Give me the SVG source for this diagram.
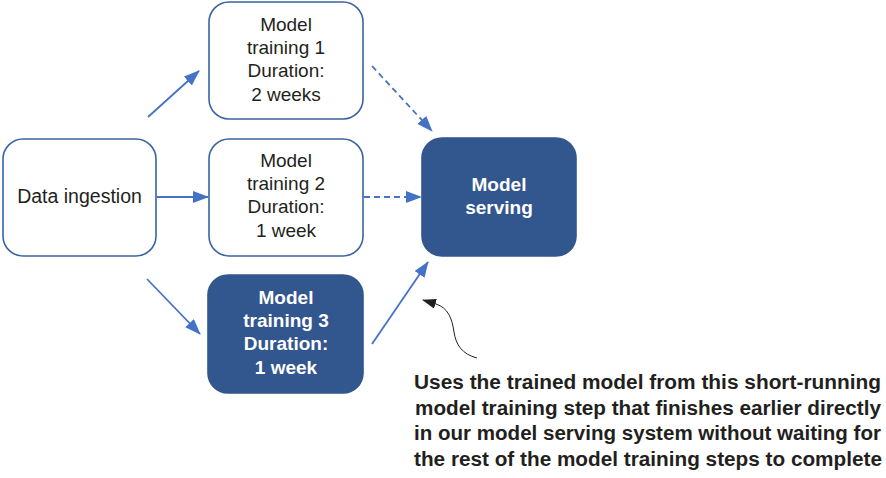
<svg xmlns="http://www.w3.org/2000/svg" width="886" height="478" viewBox="0 0 886 478">
<style>
.box{fill:#fff;stroke:#3a63a3;stroke-width:1.6}
.dark{fill:#32568e;stroke:#32568e;stroke-width:1.6}
.t{font-family:"Liberation Sans",Arial,sans-serif;font-size:19px;fill:#231f20;text-anchor:middle}
.tb{font-family:"Liberation Sans",Arial,sans-serif;font-size:19px;font-weight:bold;fill:#fff;text-anchor:middle}
.c{stroke:#4472c4;stroke-width:1.8;fill:none}
.d{stroke-dasharray:6,4}
.note{font-family:"Liberation Sans",Arial,sans-serif;font-size:19.5px;font-weight:bold;fill:#231f20}
</style>
<defs>
<marker id="ah" markerUnits="userSpaceOnUse" markerWidth="16" markerHeight="12" refX="15" refY="6" orient="auto">
<path d="M0,0 L16,6 L0,12 Z" fill="#4472c4"/>
</marker>
<marker id="bh" markerUnits="userSpaceOnUse" markerWidth="14" markerHeight="10" refX="13" refY="5" orient="auto">
<path d="M0,0 L14,5 L0,10 Z" fill="#231f20"/>
</marker>
</defs>
<g id="data-ingestion">
<rect class="box" x="3" y="139" width="153" height="117" rx="20"/>
<text class="t" x="79.5" y="203" style="font-size:19.5px">Data ingestion</text>
</g>
<g id="model-training-1">
<rect class="box" x="209" y="2" width="154" height="117" rx="20"/>
<text class="t" x="286" y="31">Model</text>
<text class="t" x="286" y="54">training 1</text>
<text class="t" x="286" y="77">Duration:</text>
<text class="t" x="286" y="101">2 weeks</text>
</g>
<g id="model-training-2">
<rect class="box" x="209" y="139" width="154" height="117" rx="20"/>
<text class="t" x="286" y="167">Model</text>
<text class="t" x="286" y="190">training 2</text>
<text class="t" x="286" y="213">Duration:</text>
<text class="t" x="286" y="237">1 week</text>
</g>
<g id="model-training-3">
<rect class="dark" x="208" y="275" width="155" height="118" rx="20"/>
<text class="tb" x="286" y="304">Model</text>
<text class="tb" x="286" y="327">training 3</text>
<text class="tb" x="286" y="350">Duration:</text>
<text class="tb" x="286" y="374">1 week</text>
</g>
<g id="model-serving">
<rect class="dark" x="422" y="138" width="154" height="118" rx="20"/>
<text class="tb" x="499" y="191">Model</text>
<text class="tb" x="499" y="214">serving</text>
</g>
<g id="connectors">
<line class="c" x1="148" y1="117" x2="199" y2="71" marker-end="url(#ah)"/>
<line class="c" x1="157" y1="197" x2="208" y2="197" marker-end="url(#ah)"/>
<line class="c" x1="147" y1="279" x2="200" y2="334" marker-end="url(#ah)"/>
<line class="c d" x1="372" y1="66" x2="432" y2="131" marker-end="url(#ah)"/>
<line class="c d" x1="364" y1="197" x2="421" y2="197" marker-end="url(#ah)"/>
<line class="c" x1="372" y1="344" x2="428" y2="262" marker-end="url(#ah)"/>
<path d="M477,358 C462,354 456,345 454,332 C452,318 448,308 436,304 L423,300" fill="none" stroke="#231f20" stroke-width="1" marker-end="url(#bh)"/>
</g>
<g id="annotation">
<text class="note" x="414" y="389" textLength="467" lengthAdjust="spacingAndGlyphs">Uses the trained model from this short-running</text>
<text class="note" x="415" y="415" textLength="466" lengthAdjust="spacingAndGlyphs">model training step that finishes earlier directly</text>
<text class="note" x="414" y="440" textLength="467" lengthAdjust="spacingAndGlyphs">in our model serving system without waiting for</text>
<text class="note" x="414" y="466" textLength="468" lengthAdjust="spacingAndGlyphs">the rest of the model training steps to complete</text>
</g>
</svg>
